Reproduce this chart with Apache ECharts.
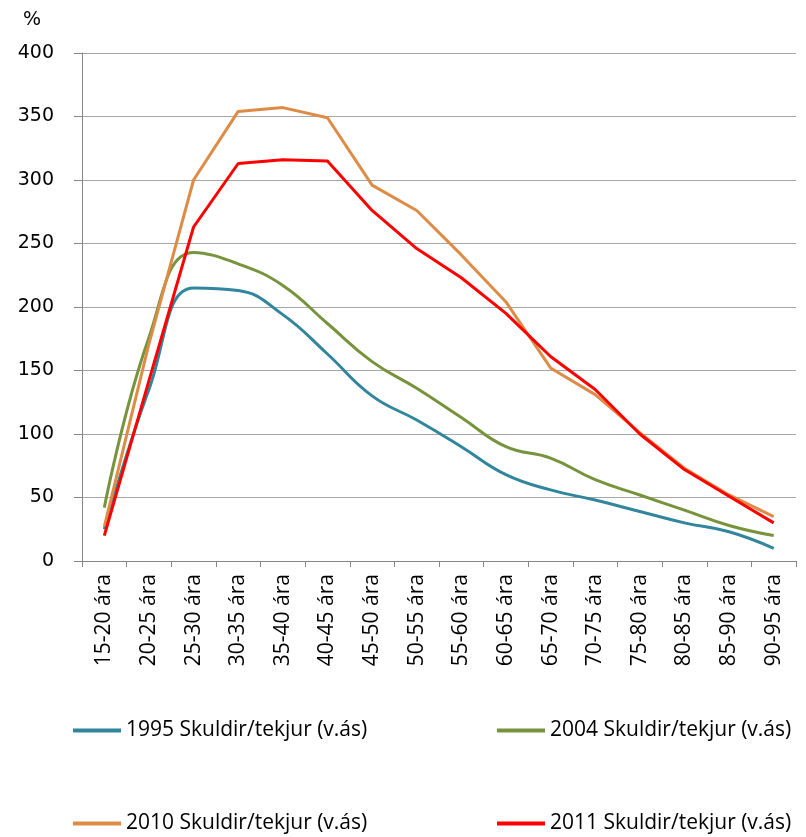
<!DOCTYPE html>
<html>
<head>
<meta charset="utf-8">
<script src="https://cdn.jsdelivr.net/npm/echarts@6/dist/echarts.min.js"></script>
<style>
  html, body { margin: 0; padding: 0; background: #fff; }
  #chart { width: 806px; height: 837px; }
</style>
</head>
<body>
<div id="chart"></div>
<script>
// aldursbil
const categories = ['15-20 ára', '20-25 ára', '25-30 ára', '30-35 ára', '35-40 ára', '40-45 ára',
  '45-50 ára', '50-55 ára', '55-60 ára', '60-65 ára', '65-70 ára', '70-75 ára',
  '75-80 ára', '80-85 ára', '85-90 ára', '90-95 ára'];

// skuldir / tekjur, %
const s1995 = [25, 135, 215, 213, 194, 163, 130, 111, 90, 68, 56, 48, 39, 30, 23, 10];
const s2004 = [42, 176, 243, 234, 217, 187, 157, 136, 113, 90, 81, 64, 52, 40, 28, 20];
const s2010 = [27, 171, 300, 354, 357, 349, 296, 276, 241, 204, 152, 131, 101, 73, 52, 35];
const s2011 = [20, 142, 263, 313, 316, 315, 276, 246, 223, 195, 161, 135, 100, 72, 51, 30];

const names = ['1995 Skuldir/tekjur (v.ás)', '2004 Skuldir/tekjur (v.ás)',
  '2010 Skuldir/tekjur (v.ás)', '2011 Skuldir/tekjur (v.ás)'];
const colors = ['#31859C', '#77933C', '#DE8B46', '#FF0000'];

const textFont = "'Open Sans', sans-serif";
const axisFont = "'DejaVu Sans', Verdana, sans-serif";

function legendAt(name, left, top) {
  return {
    data: [name],
    left: left,
    top: top,
    icon: 'rect',
    itemWidth: 48,
    itemHeight: 4,
    itemGap: 0,
    padding: 0,
    textStyle: { fontFamily: textFont, fontSize: 21, color: '#000' }
  };
}

function line(i, data, smooth) {
  return {
    name: names[i],
    type: 'line',
    data: data,
    smooth: smooth,
    symbol: 'none',
    lineStyle: { color: colors[i], width: 3 },
    itemStyle: { color: colors[i] },
    z: 2 + i
  };
}

const chart = echarts.init(document.getElementById('chart'), null, { renderer: 'canvas' });
chart.setOption({
  animation: false,
  title: {
    text: '%',
    left: 18,
    top: 6,
    textStyle: { fontFamily: axisFont, fontSize: 19, fontWeight: 'normal', color: '#000' }
  },
  grid: { left: 82, right: 10, top: 53, bottom: 276 },
  legend: [
    legendAt(names[0], 73, 720),
    legendAt(names[1], 497, 720),
    legendAt(names[2], 73, 813),
    legendAt(names[3], 497, 813)
  ],
  xAxis: {
    type: 'category',
    data: categories,
    boundaryGap: true,
    axisLine: { lineStyle: { color: '#868686', width: 1 } },
    axisTick: { show: true, length: 6, lineStyle: { color: '#868686' } },
    axisLabel: {
      rotate: 90,
      interval: 0,
      margin: 13,
      fontFamily: textFont,
      fontSize: 21,
      color: '#000'
    },
    splitLine: { show: false }
  },
  yAxis: {
    type: 'value',
    min: 0,
    max: 400,
    interval: 50,
    axisLine: { show: true, lineStyle: { color: '#868686', width: 1 } },
    axisTick: { show: true, length: 8, lineStyle: { color: '#868686' } },
    axisLabel: { margin: 28, fontFamily: axisFont, fontSize: 19, color: '#000' },
    splitLine: { lineStyle: { color: '#A6A6A6', width: 1 } }
  },
  series: [
    line(0, s1995, 0.45),
    line(1, s2004, 0.45),
    line(2, s2010, false),
    line(3, s2011, false)
  ]
});
</script>
</body>
</html>
